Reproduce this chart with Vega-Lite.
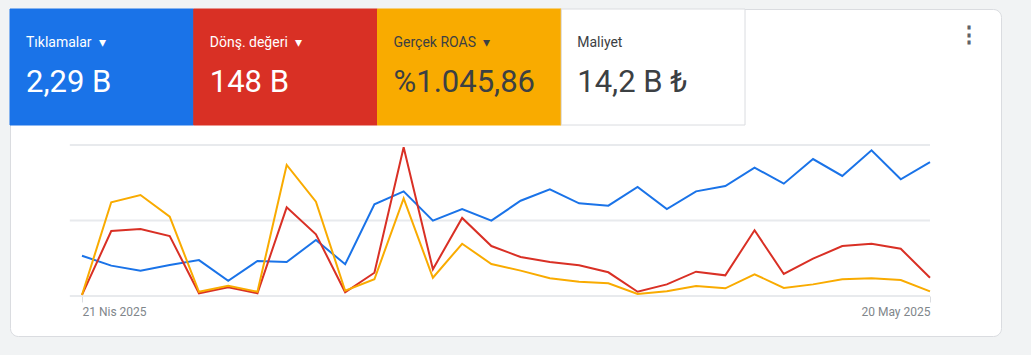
{
  "$schema": "https://vega.github.io/schema/vega-lite/v6.json",
  "width": 991,
  "height": 327,
  "autosize": {"type": "none"},
  "padding": {"left": 10, "top": 9, "right": 30, "bottom": 19},
  "background": "#f1f3f4",
  "view": {"fill": "#ffffff", "stroke": "#dadce0", "cornerRadius": 8},
  "config": {
    "view": {"fill": "#ffffff", "stroke": "#dadce0", "cornerRadius": 8},
    "font": "Roboto"
  },
  "datasets": {
    "tiles": [
      {"metric": "clicks", "label": "Tıklamalar\u2002▾", "value": "2,29 B"},
      {"metric": "conv", "label": "Dönş. değeri\u2002▾", "value": "148 B"},
      {"metric": "roas", "label": "Gerçek ROAS\u2002▾", "value": "%1.045,86"},
      {"metric": "cost", "label": "Maliyet", "value": "14,2 B ₺"}
    ],
    "series": [
      {"date": "2025/04/21", "clicks": 26.7, "conv": 0.7, "roas": 0.7},
      {"date": "2025/04/22", "clicks": 20.1, "conv": 43.0, "roas": 62.1},
      {"date": "2025/04/23", "clicks": 16.8, "conv": 44.4, "roas": 66.9},
      {"date": "2025/04/24", "clicks": 20.5, "conv": 39.7, "roas": 52.5},
      {"date": "2025/04/25", "clicks": 23.8, "conv": 1.8, "roas": 2.8},
      {"date": "2025/04/26", "clicks": 10.1, "conv": 5.8, "roas": 6.8},
      {"date": "2025/04/27", "clicks": 23.2, "conv": 1.8, "roas": 2.8},
      {"date": "2025/04/28", "clicks": 22.5, "conv": 58.7, "roas": 86.8},
      {"date": "2025/04/29", "clicks": 37.1, "conv": 40.9, "roas": 62.5},
      {"date": "2025/04/30", "clicks": 21.0, "conv": 2.5, "roas": 3.5},
      {"date": "2025/05/01", "clicks": 60.7, "conv": 15.4, "roas": 11.1},
      {"date": "2025/05/02", "clicks": 69.3, "conv": 98.5, "roas": 64.7},
      {"date": "2025/05/03", "clicks": 49.9, "conv": 17.7, "roas": 12.1},
      {"date": "2025/05/04", "clicks": 57.6, "conv": 51.7, "roas": 34.6},
      {"date": "2025/05/05", "clicks": 49.9, "conv": 33.1, "roas": 21.2},
      {"date": "2025/05/06", "clicks": 63.1, "conv": 25.8, "roas": 16.8},
      {"date": "2025/05/07", "clicks": 70.7, "conv": 22.5, "roas": 11.7},
      {"date": "2025/05/08", "clicks": 61.4, "conv": 20.3, "roas": 9.5},
      {"date": "2025/05/09", "clicks": 59.8, "conv": 15.7, "roas": 8.4},
      {"date": "2025/05/10", "clicks": 72.2, "conv": 2.8, "roas": 1.3},
      {"date": "2025/05/11", "clicks": 57.6, "conv": 7.7, "roas": 3.1},
      {"date": "2025/05/12", "clicks": 69.3, "conv": 16.1, "roas": 6.6},
      {"date": "2025/05/13", "clicks": 72.8, "conv": 13.7, "roas": 5.1},
      {"date": "2025/05/14", "clicks": 85.0, "conv": 43.5, "roas": 14.4},
      {"date": "2025/05/15", "clicks": 74.4, "conv": 14.6, "roas": 5.3},
      {"date": "2025/05/16", "clicks": 90.7, "conv": 24.7, "roas": 7.7},
      {"date": "2025/05/17", "clicks": 79.5, "conv": 33.1, "roas": 11.1},
      {"date": "2025/05/18", "clicks": 96.5, "conv": 34.6, "roas": 11.7},
      {"date": "2025/05/19", "clicks": 77.3, "conv": 31.3, "roas": 10.6},
      {"date": "2025/05/20", "clicks": 88.7, "conv": 12.1, "roas": 3.1}
    ],
    "grid": [{"level": 0}, {"level": 50}, {"level": 100}],
    "menu": [{"icon": "⋮"}]
  },
  "resolve": {"scale": {"x": "independent", "y": "independent", "color": "independent", "stroke": "independent"}},
  "layer": [
    {
      "data": {"name": "tiles"},
      "mark": {"type": "rect", "strokeWidth": 1},
      "encoding": {
        "x": {"field": "metric", "type": "nominal", "sort": null,
              "scale": {"type": "band", "domain": ["clicks", "conv", "roas", "cost"], "range": [0, 735], "paddingInner": 0, "paddingOuter": 0},
              "axis": null},
        "y": {"datum": "header", "type": "nominal",
              "scale": {"type": "band", "domain": ["header"], "range": [0, 116], "paddingInner": 0, "paddingOuter": 0},
              "axis": null},
        "color": {"field": "metric", "type": "nominal",
                  "scale": {"domain": ["clicks", "conv", "roas", "cost"], "range": ["#1a73e8", "#d93025", "#f9ab00", "#ffffff"]},
                  "legend": null},
        "stroke": {"field": "metric", "type": "nominal",
                   "scale": {"domain": ["clicks", "conv", "roas", "cost"], "range": ["#1a73e8", "#d93025", "#f9ab00", "#dadce0"]},
                   "legend": null}
      }
    },
    {
      "data": {"name": "tiles"},
      "transform": [{"fold": ["label", "value"], "as": ["kind", "txt"]}],
      "encoding": {
        "x": {"field": "metric", "type": "nominal", "sort": null, "bandPosition": 0,
              "scale": {"type": "band", "domain": ["clicks", "conv", "roas", "cost"], "range": [0, 735], "paddingInner": 0, "paddingOuter": 0},
              "axis": null},
        "y": {"field": "kind", "type": "nominal",
              "scale": {"type": "point", "domain": ["label", "value"], "range": [38, 83], "padding": 0},
              "axis": null},
        "text": {"field": "txt"},
        "color": {"field": "metric", "type": "nominal",
                  "scale": {"domain": ["clicks", "conv", "roas", "cost"], "range": ["#ffffff", "#ffffff", "#3c4043", "#3c4043"]},
                  "legend": null}
      },
      "layer": [
        {
          "transform": [{"filter": "datum.kind === 'label'"}],
          "mark": {"type": "text", "align": "left", "baseline": "alphabetic", "dx": 16, "fontSize": 14, "fontWeight": "normal"}
        },
        {
          "transform": [{"filter": "datum.kind === 'value'"}],
          "mark": {"type": "text", "align": "left", "baseline": "alphabetic", "dx": 16, "fontSize": 31, "fontWeight": "normal"}
        }
      ]
    },
    {
      "data": {"name": "menu"},
      "mark": {"type": "text", "fontSize": 22, "fontWeight": "bold", "color": "#5f6368", "align": "center", "baseline": "middle", "x": 959, "y": 26},
      "encoding": {"text": {"field": "icon"}}
    },
    {
      "layer": [
        {
          "data": {"name": "grid"},
          "mark": {"type": "rule", "color": "#e8eaed", "strokeWidth": 2},
          "encoding": {
            "y": {"field": "level", "type": "quantitative"},
            "x": {"datum": {"year": 2025, "month": 4, "date": 20, "hours": 14}, "type": "temporal"},
            "x2": {"datum": {"year": 2025, "month": 5, "date": 20}}
          }
        },
        {
          "data": {"name": "series"},
          "transform": [{"fold": ["clicks", "conv", "roas"], "as": ["series", "value"]}],
          "mark": {"type": "line", "strokeWidth": 2},
          "encoding": {
            "x": {"field": "date", "type": "temporal"},
            "y": {"field": "value", "type": "quantitative"},
            "color": {"field": "series", "type": "nominal",
                      "scale": {"domain": ["clicks", "conv", "roas"], "range": ["#1a73e8", "#d93025", "#f9ab00"]},
                      "legend": null}
          }
        }
      ],
      "encoding": {
        "x": {"type": "temporal",
              "scale": {"domain": [{"year": 2025, "month": 4, "date": 21}, {"year": 2025, "month": 5, "date": 20}], "range": [72, 920], "nice": false},
              "axis": {
                "values": [{"year": 2025, "month": 4, "date": 21}, {"year": 2025, "month": 5, "date": 20}],
                "domain": false, "grid": false, "offset": -40,
                "ticks": true, "tickColor": "#dadce0", "tickSize": 6, "tickWidth": 1,
                "labelFlush": true, "labelPadding": 4, "labelFontSize": 12, "labelColor": "#80868b", "labelFont": "Roboto",
                "title": null,
                "labelExpr": "date(datum.value) + ' ' + ['Oca','Şub','Mar','Nis','May','Haz','Tem','Ağu','Eyl','Eki','Kas','Ara'][month(datum.value)] + ' ' + year(datum.value)"
              }},
        "y": {"type": "quantitative",
              "scale": {"domain": [0, 100], "range": [287, 136], "nice": false, "zero": false},
              "axis": null}
      }
    }
  ]
}
